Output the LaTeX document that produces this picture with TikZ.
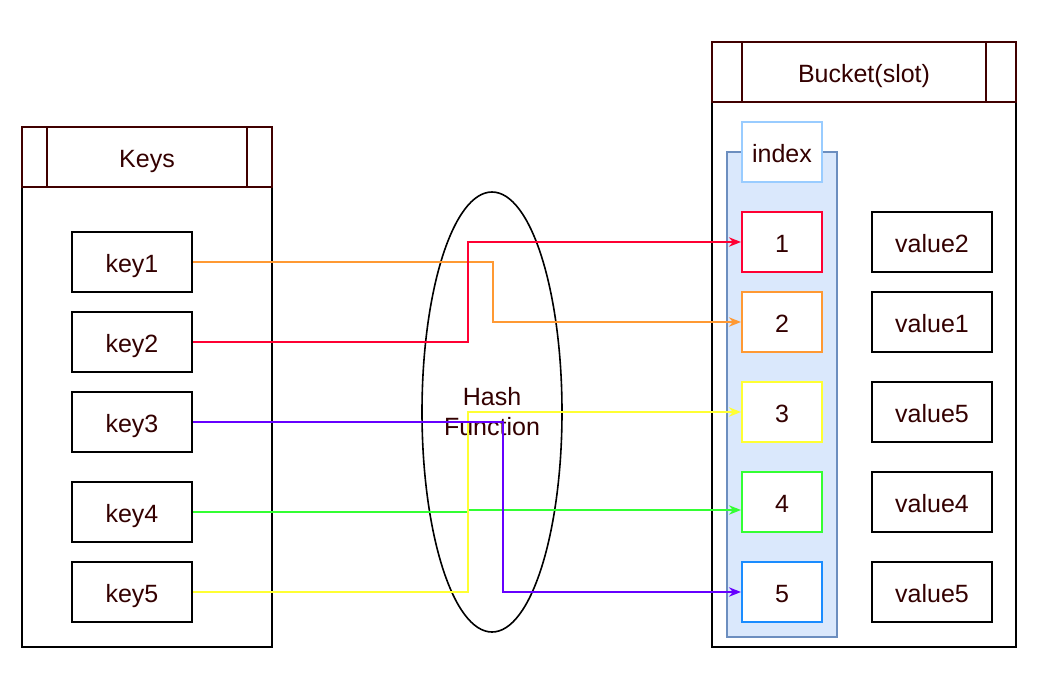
\documentclass[tikz,border=0pt]{standalone}
\usepackage{fontspec}
\setmainfont{Liberation Sans}
\usetikzlibrary{shapes.geometric,arrows.meta}
\definecolor{dred}{HTML}{400000}
\definecolor{txt}{HTML}{330000}
\definecolor{cred}{HTML}{FF0033}
\definecolor{corange}{HTML}{FF9933}
\definecolor{cyellow}{HTML}{FFFF33}
\definecolor{cgreen}{HTML}{33FF33}
\definecolor{cpurple}{HTML}{6600FF}
\definecolor{cblue}{HTML}{1A8CFF}
\definecolor{idxfill}{HTML}{DAE8FC}
\definecolor{idxdraw}{HTML}{6C8EBF}
\definecolor{idxlab}{HTML}{99CCFF}
\tikzset{
  every node/.style={font=\fontsize{18.75}{21.75}\selectfont, text=txt, inner sep=0pt, text height=15pt, text depth=0pt},
  box/.style={draw=black, line width=1.5pt, rectangle, minimum width=90pt, minimum height=45pt},
  slot/.style={draw, line width=1.5pt, fill=white, rectangle, minimum width=60pt, minimum height=45pt},
  cont/.style={draw=black, line width=1.5pt, rectangle},
  hdr/.style={draw=dred, line width=1.5pt, rectangle, minimum height=45pt},
  conn/.style={line width=1.5pt, -{Stealth[length=9pt,width=7pt]}},
}
\begin{document}
\begin{tikzpicture}[x=0.75pt,y=-0.75pt]
\useasboundingbox (0,0) rectangle (1047,683);
% Keys container
\node[cont, minimum width=187.5pt, minimum height=390pt] (keys) at (147,387) {};
\node[hdr, minimum width=187.5pt] (keyshdr) at (147,157) {Keys};
\draw[dred, line width=1.5pt] (47,127) -- (47,187) (247,127) -- (247,187);
\node[box] (key1) at (132,262) {key1};
\node[box] (key2) at (132,342) {key2};
\node[box] (key3) at (132,422) {key3};
\node[box] (key4) at (132,512) {key4};
\node[box] (key5) at (132,592) {key5};
% Hash function
\node[draw=black, line width=1.2pt, ellipse, minimum width=105pt, minimum height=330pt, align=center, font=\fontsize{18.75}{22.5}\selectfont, text height=, text depth=] (hash) at (492,412) {Hash\\Function};
% Bucket container
\node[cont, minimum width=228pt, minimum height=453.75pt] (bucket) at (864,344.5) {};
\node[hdr, minimum width=228pt] (buckethdr) at (864,72) {Bucket(slot)};
\draw[dred, line width=1.5pt] (742,42) -- (742,102) (986,42) -- (986,102);
\node[draw=idxdraw, fill=idxfill, line width=1.5pt, minimum width=82.5pt, minimum height=363.75pt] (idx) at (782,394.5) {};
\node[slot, draw=idxlab] (idxlab) at (782,152) {index};
\node[slot, draw=cred] (s1) at (782,242) {1};
\node[slot, draw=corange] (s2) at (782,322) {2};
\node[slot, draw=cyellow] (s3) at (782,412) {3};
\node[slot, draw=cgreen] (s4) at (782,502) {4};
\node[slot, draw=cblue] (s5) at (782,592) {5};
\node[box] (v1) at (932,242) {value2};
\node[box] (v2) at (932,322) {value1};
\node[box] (v3) at (932,412) {value5};
\node[box] (v4) at (932,502) {value4};
\node[box] (v5) at (932,592) {value5};
\coordinate (s4in) at ([yshift=-6pt]s4.west);
% connectors
\draw[conn, corange] (key1.east) -- ++(300,0) |- (s2.west);
\draw[conn, cred] (key2.east) -- ++(275,0) |- (s1.west);
\draw[conn, cgreen] (key4.east) -- ++(275,0) |- (s4in);
\draw[conn, cyellow] (key5.east) -- ++(275,0) |- (s3.west);
\draw[conn, cpurple] (key3.east) -- ++(310,0) |- (s5.west);
\end{tikzpicture}
\end{document}
